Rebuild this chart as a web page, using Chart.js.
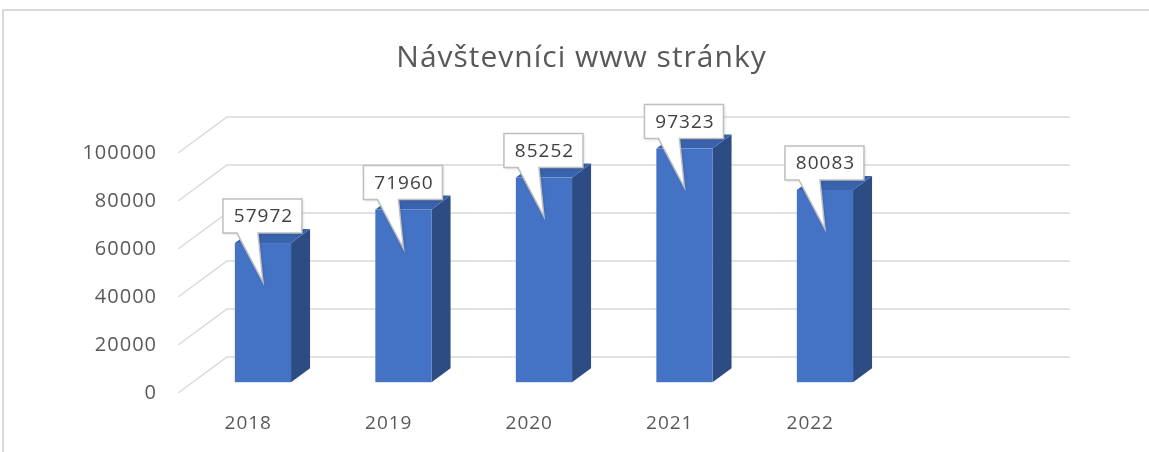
<!DOCTYPE html>
<html>
<head>
<meta charset="utf-8">
<script src="https://cdn.jsdelivr.net/npm/chart.js@4.4.1/dist/chart.umd.min.js"></script>
<style>
  html, body { margin: 0; padding: 0; background: #ffffff; }
  #wrap { width: 1149px; height: 452px; position: relative; }
</style>
</head>
<body>
<div id="wrap"><canvas id="c" width="1149" height="452"></canvas></div>
<script>
// ---- data ----
const titleText = 'Návštevníci www stránky';
const categories = ['2018', '2019', '2020', '2021', '2022'];
const visitors = [57972, 71960, 85252, 97323, 80083];
const yTicks = [0, 20000, 40000, 60000, 80000, 100000];

// ---- style ----
const FONT = '"Open Sans", "Noto Sans", sans-serif';
const TEXT = '#595959';
const GRID = '#d9d9d9';
const DX = 49, DY = 36;          // depth offset of the back wall
const F1 = 0.3;                  // depth fraction of bar front face
const SDX = 19, SDY = 14;        // bar depth
const FRONT = '#4472c4', SIDE = '#2d4c84', TOP = '#3a63ae';
const SPACING = '1px';

const labels = categories.concat(['']);
const data = visitors.concat([null]);

const spacing = {
  id: 'spacing',
  beforeUpdate(chart) { chart.ctx.letterSpacing = SPACING; },
  beforeLayout(chart) { chart.ctx.letterSpacing = SPACING; },
  beforeDraw(chart) { chart.ctx.letterSpacing = SPACING; }
};

const frame = {
  id: 'frame',
  beforeDraw(chart) {
    const ctx = chart.ctx;
    ctx.save();
    ctx.strokeStyle = '#d9d9d9';
    ctx.lineWidth = 2;
    ctx.beginPath();
    ctx.moveTo(1149, 10);
    ctx.lineTo(3, 10);
    ctx.lineTo(3, 452);
    ctx.stroke();
    ctx.restore();
  }
};

const grid3d = {
  id: 'grid3d',
  beforeDatasetsDraw(chart) {
    const ctx = chart.ctx, ys = chart.scales.y, a = chart.chartArea;
    ctx.save();
    ctx.strokeStyle = GRID;
    ctx.lineWidth = 1.5;
    yTicks.forEach(v => {
      const y = ys.getPixelForValue(v);
      ctx.beginPath();
      ctx.moveTo(a.left, y);
      ctx.lineTo(a.left + DX, y - DY);
      ctx.lineTo(a.right + DX, y - DY);
      ctx.stroke();
    });
    ctx.restore();
  }
};

const bars3d = {
  id: 'bars3d',
  afterDatasetsDraw(chart) {
    const ctx = chart.ctx;
    const meta = chart.getDatasetMeta(0);
    const boxes = [];
    ctx.save();
    meta.data.forEach((el, i) => {
      if (data[i] == null) return;
      const p = el.getProps(['x', 'y', 'base', 'width'], true);
      const ox = F1 * DX, oy = F1 * DY;
      const x0 = p.x - p.width / 2 + ox, x1 = p.x + p.width / 2 + ox;
      const top = p.y - oy, bot = p.base - oy;
      ctx.fillStyle = SIDE;
      ctx.beginPath();
      ctx.moveTo(x1, top); ctx.lineTo(x1 + SDX, top - SDY);
      ctx.lineTo(x1 + SDX, bot - SDY); ctx.lineTo(x1, bot); ctx.closePath();
      ctx.fill();
      ctx.fillStyle = TOP;
      ctx.beginPath();
      ctx.moveTo(x0, top); ctx.lineTo(x0 + SDX, top - SDY);
      ctx.lineTo(x1 + SDX, top - SDY); ctx.lineTo(x1, top); ctx.closePath();
      ctx.fill();
      ctx.fillStyle = FRONT;
      ctx.fillRect(x0, top, x1 - x0, bot - top);
      boxes.push({ cx: (x0 + x1) / 2, top, v: data[i] });
    });
    boxes.forEach(b => {
      const w = 79, h = 34;
      const bx0 = b.cx - 40, bx1 = bx0 + w;
      const by1 = b.top - 10, by0 = by1 - h;
      const tipY = b.top + 39;
      ctx.save();
      ctx.shadowColor = 'rgba(0,0,0,0.18)';
      ctx.shadowBlur = 3;
      ctx.shadowOffsetX = 1;
      ctx.shadowOffsetY = 1;
      ctx.beginPath();
      ctx.moveTo(bx0, by0);
      ctx.lineTo(bx1, by0);
      ctx.lineTo(bx1, by1);
      ctx.lineTo(b.cx - 5, by1);
      ctx.lineTo(b.cx, tipY);
      ctx.lineTo(b.cx - 26, by1);
      ctx.lineTo(bx0, by1);
      ctx.closePath();
      ctx.fillStyle = '#ffffff';
      ctx.fill();
      ctx.restore();
      ctx.strokeStyle = '#bfbfbf';
      ctx.lineWidth = 1.5;
      ctx.stroke();
      ctx.fillStyle = '#404040';
      ctx.font = '19px ' + FONT;
      ctx.textAlign = 'center';
      ctx.textBaseline = 'middle';
      ctx.fillText(String(b.v), b.cx + 0.5, (by0 + by1) / 2 + 1);
    });
    ctx.restore();
  }
};

new Chart(document.getElementById('c'), {
  type: 'bar',
  data: {
    labels: labels,
    datasets: [{
      label: 'Návštevníci',
      data: data,
      backgroundColor: 'rgba(0,0,0,0)',
      borderWidth: 0,
      categoryPercentage: 1,
      barPercentage: 0.4
    }]
  },
  options: {
    responsive: false,
    animation: false,
    devicePixelRatio: 1,
    layout: { padding: { left: 14, right: 0, top: 0, bottom: 19 } },
    plugins: {
      legend: { display: false },
      tooltip: { enabled: false },
      title: {
        display: true,
        text: titleText,
        color: TEXT,
        font: { family: FONT, size: 30, weight: 'normal', lineHeight: 1.2 },
        padding: { top: 40.2, bottom: 76.8 }
      }
    },
    scales: {
      x: {
        grid: { display: false, drawTicks: false },
        border: { display: false },
        ticks: { color: TEXT, font: { family: FONT, size: 19 }, padding: 19, maxRotation: 0 },
        afterFit(s) { s.height = 40; }
      },
      y: {
        min: 0, max: 100000,
        grid: { display: false, drawTicks: false },
        border: { display: false },
        ticks: {
          stepSize: 20000, color: TEXT, font: { family: FONT, size: 20 }, padding: 21,
          callback: v => String(v)
        },
        afterFit(s) { s.width = 164; }
      },
      yRight: {
        position: 'right',
        min: 0, max: 100000,
        grid: { display: false, drawTicks: false },
        border: { display: false },
        ticks: { display: false },
        afterFit(s) { s.width = 128; }
      }
    }
  },
  plugins: [spacing, frame, grid3d, bars3d]
});
</script>
</body>
</html>
